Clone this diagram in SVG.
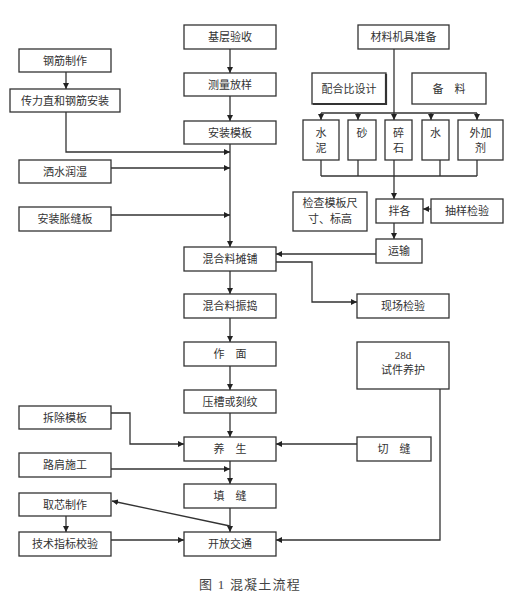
<svg xmlns="http://www.w3.org/2000/svg" width="520" height="600" viewBox="0 0 520 600">
<defs>
<marker id="ah" markerWidth="6" markerHeight="6" refX="6" refY="3" orient="auto" markerUnits="userSpaceOnUse">
<path d="M0,0 L6,3 L0,6 z" fill="#222"/>
</marker>
<style>
.b{fill:#fff;stroke:#333;stroke-width:1.3}
.t{font-family:"Liberation Serif","Noto Sans CJK SC",serif;font-size:11px;fill:#333;text-anchor:middle}
.c{fill:none;stroke:#333;stroke-width:1.3}
.a{marker-end:url(#ah)}
.cap{font-family:"Liberation Serif","Noto Sans CJK SC",serif;font-size:13px;fill:#444;text-anchor:middle;letter-spacing:1.2px}
</style>
</defs>
<rect width="520" height="600" fill="#fff"/>

<g id="connectors">
<line class="c a" x1="230" y1="49" x2="230" y2="73"/>
<line class="c a" x1="230" y1="96" x2="230" y2="121"/>
<line class="c a" x1="230" y1="144" x2="230" y2="247"/>
<line class="c a" x1="66" y1="72" x2="66" y2="89"/>
<polyline class="c a" points="66,112 66,152 230,152"/>
<line class="c a" x1="111" y1="168" x2="230" y2="168"/>
<line class="c a" x1="111" y1="215" x2="230" y2="215"/>
<line class="c a" x1="230" y1="271" x2="230" y2="294"/>
<line class="c a" x1="230" y1="318" x2="230" y2="342"/>
<line class="c a" x1="230" y1="366" x2="230" y2="390"/>
<line class="c a" x1="230" y1="413" x2="230" y2="437"/>
<line class="c a" x1="230" y1="461" x2="230" y2="484"/>
<line class="c a" x1="230" y1="508" x2="230" y2="532"/>
<polyline class="c a" points="111,413 130,413 130,444 184,444"/>
<line class="c a" x1="111" y1="469" x2="230" y2="469"/>
<line class="c a" x1="230" y1="526" x2="112" y2="501"/>
<line class="c a" x1="66" y1="516" x2="66" y2="532"/>
<line class="c a" x1="111" y1="540" x2="184" y2="540"/>
<polyline class="c a" points="440,389 440,540 276,540"/>
<line class="c a" x1="357" y1="444" x2="276" y2="444"/>
<line class="c a" x1="376" y1="254" x2="276" y2="254"/>
<polyline class="c a" points="276,262 312,262 312,302 357,302"/>
<line class="c a" x1="394" y1="49" x2="394" y2="120"/>
<line class="c" x1="321" y1="113" x2="477" y2="113"/>
<line class="c a" x1="321" y1="113" x2="321" y2="120"/>
<line class="c a" x1="358" y1="113" x2="358" y2="120"/>
<line class="c a" x1="431" y1="113" x2="431" y2="120"/>
<line class="c a" x1="477" y1="113" x2="477" y2="120"/>
<line class="c" x1="321" y1="160" x2="321" y2="176"/>
<line class="c" x1="358" y1="160" x2="358" y2="176"/>
<line class="c" x1="440" y1="160" x2="440" y2="176"/>
<line class="c" x1="477" y1="160" x2="477" y2="176"/>
<line class="c" x1="321" y1="176" x2="477" y2="176"/>
<line class="c a" x1="394" y1="160" x2="394" y2="199"/>
<line class="c a" x1="431" y1="209" x2="423" y2="209"/>
<line class="c a" x1="394" y1="223" x2="394" y2="239"/>
</g>

<g id="n_jiceng"><rect class="b" x="184" y="25" width="92" height="24"/><text class="t" x="230" y="41">基层验收</text></g>
<g id="n_celiang"><rect class="b" x="184" y="73" width="92" height="23"/><text class="t" x="230" y="88.5">测量放样</text></g>
<g id="n_anzhuang"><rect class="b" x="184" y="121" width="92" height="23"/><text class="t" x="230" y="136.5">安装模板</text></g>
<g id="n_tanpu"><rect class="b" x="184" y="247" width="92" height="24"/><text class="t" x="230" y="263">混合料摊铺</text></g>
<g id="n_zhendao"><rect class="b" x="184" y="294" width="92" height="24"/><text class="t" x="230" y="310">混合料振捣</text></g>
<g id="n_zuomian"><rect class="b" x="184" y="342" width="92" height="24"/><text class="t" x="230" y="358">作　面</text></g>
<g id="n_yacao"><rect class="b" x="184" y="390" width="92" height="23"/><text class="t" x="230" y="405.5">压槽或刻纹</text></g>
<g id="n_yangsheng"><rect class="b" x="184" y="437" width="92" height="24"/><text class="t" x="230" y="453">养　生</text></g>
<g id="n_tianfeng"><rect class="b" x="184" y="484" width="92" height="24"/><text class="t" x="230" y="500">填　缝</text></g>
<g id="n_kaifang"><rect class="b" x="184" y="532" width="92" height="24"/><text class="t" x="230" y="548">开放交通</text></g>

<g id="n_gangjin"><rect class="b" x="19" y="49" width="92" height="23"/><text class="t" x="65" y="64.5">钢筋制作</text></g>
<g id="n_chuanli"><rect class="b" x="10" y="89" width="110" height="23"/><text class="t" x="65" y="104.5">传力直和钢筋安装</text></g>
<g id="n_sashui"><rect class="b" x="19" y="160" width="92" height="23"/><text class="t" x="65" y="175.5">洒水润湿</text></g>
<g id="n_zhangfeng"><rect class="b" x="19" y="207" width="92" height="24"/><text class="t" x="65" y="223">安装胀缝板</text></g>
<g id="n_chaichu"><rect class="b" x="19" y="406" width="92" height="23"/><text class="t" x="65" y="421.5">拆除模板</text></g>
<g id="n_lujian"><rect class="b" x="19" y="453" width="92" height="24"/><text class="t" x="65" y="469">路肩施工</text></g>
<g id="n_quxin"><rect class="b" x="19" y="493" width="92" height="23"/><text class="t" x="65" y="508.5">取芯制作</text></g>
<g id="n_jishu"><rect class="b" x="19" y="532" width="92" height="24"/><text class="t" x="65" y="548">技术指标校验</text></g>

<g id="n_cailiao"><rect class="b" x="358" y="25" width="91" height="24"/><text class="t" x="403.5" y="41">材料机具准备</text></g>
<g id="n_peihe"><rect class="b" x="312" y="73" width="74" height="31"/><polyline class="c" points="386,74 386,104 313,104" style="stroke-width:2.2"/><text class="t" x="349" y="92.5">配合比设计</text></g>
<g id="n_beiliao"><rect class="b" x="412" y="73" width="74" height="31"/><text class="t" x="449" y="92.5">备　料</text></g>
<g id="n_shuini"><rect class="b" x="303" y="120" width="36" height="40"/><text class="t" x="321" y="137">水</text><text class="t" x="321" y="152">泥</text></g>
<g id="n_sha"><rect class="b" x="348" y="120" width="28" height="40"/><text class="t" x="362" y="137">砂</text></g>
<g id="n_suishi"><rect class="b" x="385" y="120" width="27" height="40"/><text class="t" x="398.5" y="137">碎</text><text class="t" x="398.5" y="152">石</text></g>
<g id="n_shui"><rect class="b" x="422" y="120" width="27" height="40"/><text class="t" x="435.5" y="137">水</text></g>
<g id="n_waijia"><rect class="b" x="458" y="120" width="45" height="40"/><text class="t" x="480.5" y="137">外加</text><text class="t" x="480.5" y="152">剂</text></g>
<g id="n_jiancha"><rect class="b" x="293" y="192" width="74" height="39"/><text class="t" x="330" y="207">检查模板尺</text><text class="t" x="330" y="223">寸、标高</text></g>
<g id="n_bange"><rect class="b" x="376" y="199" width="47" height="24"/><text class="t" x="399.5" y="215">拌各</text></g>
<g id="n_chouyang"><rect class="b" x="431" y="199" width="72" height="24"/><text class="t" x="467" y="215">抽样检验</text></g>
<g id="n_yunshu"><rect class="b" x="376" y="239" width="46" height="24"/><text class="t" x="399" y="255">运输</text></g>
<g id="n_xianchang"><rect class="b" x="357" y="294" width="92" height="24"/><text class="t" x="403" y="310">现场检验</text></g>
<g id="n_28d"><rect class="b" x="357" y="342" width="92" height="47"/><text class="t" x="403" y="359">28d</text><text class="t" x="403" y="374">试件养护</text></g>
<g id="n_qiefeng"><rect class="b" x="357" y="437" width="74" height="24"/><text class="t" x="394" y="453">切　缝</text></g>

<text class="cap" x="250" y="589">图 1 混凝土流程</text>
</svg>
